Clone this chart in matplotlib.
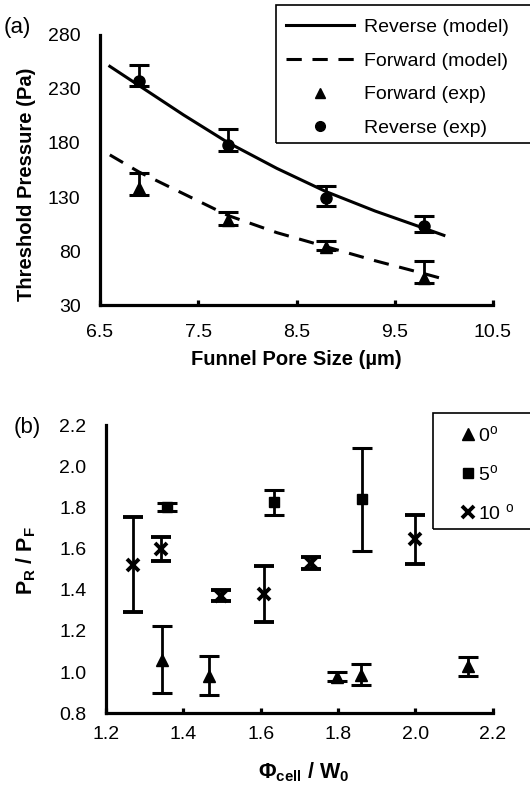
import numpy as np
import matplotlib
matplotlib.use("Agg")
import matplotlib.pyplot as plt
from matplotlib.lines import Line2D
from matplotlib.patches import Rectangle

plt.rcParams['font.family'] = ['Liberation Sans', 'DejaVu Sans']
plt.rcParams['mathtext.fontset'] = 'custom'
plt.rcParams['mathtext.rm'] = 'Liberation Sans'
plt.rcParams['mathtext.bf'] = 'Liberation Sans:bold'
plt.rcParams['mathtext.it'] = 'Liberation Sans:italic'

# (a) threshold pressure vs funnel pore size
pore = [6.9, 7.8, 8.8, 9.8]
fwd_exp = [138, 109, 84, 55]
fwd_lo = [132, 104, 81, 50]
fwd_hi = [152, 116, 89, 71]
rev_exp = [237, 178, 129, 103]
rev_lo = [233, 173, 122, 98]
rev_hi = [252, 193, 140, 112]

model_x = [6.6, 6.9, 7.35, 7.8, 8.3, 8.8, 9.3, 9.8, 10.0]
rev_model = [251, 233, 206, 180.5, 156.5, 135, 117, 101, 94.5]
fwd_model = [169, 153, 133, 113, 97, 84, 71, 59, 54]

# (b) PR/PF vs cell diameter / W0
tri_x = [1.346, 1.467, 1.797, 1.859, 2.137]
tri_y = [1.06, 0.98, 0.975, 0.985, 1.03]
tri_lo = [0.90, 0.89, 0.955, 0.935, 0.98]
tri_hi = [1.225, 1.08, 1.0, 1.04, 1.075]

sq_x = [1.357, 1.634, 1.861]
sq_y = [1.80, 1.825, 1.84]
sq_lo = [1.78, 1.765, 1.59]
sq_hi = [1.82, 1.885, 2.09]

x10_x = [1.271, 1.341, 1.497, 1.609, 1.729, 1.999]
x10_y = [1.52, 1.60, 1.37, 1.38, 1.53, 1.645]
x10_lo = [1.29, 1.54, 1.345, 1.245, 1.50, 1.525]
x10_hi = [1.755, 1.655, 1.40, 1.515, 1.56, 1.765]

W, H = 530, 789
fs = 14
lfs = 14.5


def err(y, lo, hi):
    y = np.array(y); lo = np.array(lo); hi = np.array(hi)
    return [y - lo, hi - y]


def style(ax, xpad):
    for s in ['top', 'right']:
        ax.spines[s].set_visible(False)
    for s in ['left', 'bottom']:
        ax.spines[s].set_linewidth(2.3)
    ax.tick_params(axis='x', direction='in', length=3.5, width=2.3, labelsize=fs, pad=xpad)
    ax.tick_params(axis='y', length=0, labelsize=fs, pad=14)


def box(x0, y0, x1, y1):
    # legend frame running off the right edge, as in the source figure
    fig.patches.append(Rectangle((x0 / W, 1 - y1 / H), (x1 - x0) / W, (y1 - y0) / H,
                                 transform=fig.transFigure, fill=False,
                                 edgecolor='black', lw=1.2))


fig = plt.figure(figsize=(W / 100, H / 100), dpi=100)

# ---- panel (a)
ax1 = fig.add_axes([100 / W, 1 - 305 / H, 393 / W, 270 / H])
ax1.plot(model_x, rev_model, color='black', lw=2.2)
ax1.plot(model_x, fwd_model, color='black', lw=2.2, dashes=(5, 3.5))
ax1.errorbar(pore, fwd_exp, yerr=err(fwd_exp, fwd_lo, fwd_hi), fmt='^', color='black',
             ms=8, capsize=7, capthick=2.2, elinewidth=2)
ax1.errorbar(pore, rev_exp, yerr=err(rev_exp, rev_lo, rev_hi), fmt='o', color='black',
             ms=8, capsize=7, capthick=2.2, elinewidth=2)
ax1.set_xlim(6.5, 10.5)
ax1.set_ylim(30, 280)
ax1.set_xticks(np.arange(6.5, 10.6, 1.0))
ax1.set_yticks(np.arange(30, 281, 50))
ax1.xaxis.set_major_formatter(plt.FormatStrFormatter('%.1f'))
style(ax1, 14)
ax1.set_xlabel('Funnel Pore Size (µm)', fontsize=lfs, fontweight='bold')
ax1.xaxis.set_label_coords(0.5, -(350 - 305) / 270)
ax1.set_ylabel('Threshold Pressure (Pa)', fontsize=lfs, fontweight='bold')
ax1.yaxis.set_label_coords(-(100 - 36) / 393, (305 - 184) / 270)

handles = [Line2D([], [], color='black', lw=2.2),
           Line2D([], [], color='black', lw=2.2, dashes=(5, 3.5)),
           Line2D([], [], color='black', ls='none', marker='^', ms=7),
           Line2D([], [], color='black', ls='none', marker='o', ms=7)]
labels = ['Reverse (model)', 'Forward (model)', 'Forward (exp)', 'Reverse (exp)']
fig.legend(handles, labels, loc='upper left', bbox_to_anchor=(275.7 / W, 1 - 8 / H),
           bbox_transform=fig.transFigure, fontsize=fs, frameon=False,
           borderpad=0.55, handlelength=3.5, handletextpad=0.5, labelspacing=0.82,
           borderaxespad=0)
box(275.7, 5, 545, 142.7)
fig.text(4 / W, 1 - 27 / H, '(a)', fontsize=16, va='center', ha='left')

# ---- panel (b)
ax2 = fig.add_axes([106 / W, 1 - 713.3 / H, 386.7 / W, 288.3 / H])
ekw = dict(color='black', capsize=7, capthick=2.2, elinewidth=2, ls='none')
ax2.errorbar(tri_x, tri_y, yerr=err(tri_y, tri_lo, tri_hi), marker='^', ms=8, **ekw)
ax2.errorbar(sq_x, sq_y, yerr=err(sq_y, sq_lo, sq_hi), marker='s', ms=7, **ekw)
ax2.errorbar(x10_x, x10_y, yerr=err(x10_y, x10_lo, x10_hi), marker='x', ms=8, mew=2.8, **ekw)
ax2.set_xlim(1.2, 2.2)
ax2.set_ylim(0.8, 2.2)
ax2.set_xticks(np.arange(1.2, 2.21, 0.2))
ax2.set_yticks(np.arange(0.8, 2.21, 0.2))
ax2.xaxis.set_major_formatter(plt.FormatStrFormatter('%.1f'))
ax2.yaxis.set_major_formatter(plt.FormatStrFormatter('%.1f'))
style(ax2, 9)
ax2.set_xlabel(r'$\mathbf{\Phi_{cell}\ /\ W_0}$', fontsize=lfs + 1)
ax2.xaxis.set_label_coords((304 - 106) / 386.7, -(760 - 713.3) / 288.3)
ax2.set_ylabel(r'$\mathbf{P_R\ /\ P_F}$', fontsize=lfs + 1)
ax2.yaxis.set_label_coords(-(106 - 38) / 386.7, (713.3 - 560) / 288.3)

handles2 = [Line2D([], [], color='black', ls='none', marker='^', ms=8),
            Line2D([], [], color='black', ls='none', marker='s', ms=7),
            Line2D([], [], color='black', ls='none', marker='x', ms=8, mew=2.8)]
labels2 = [r'0$^\mathrm{o}$', r'5$^\mathrm{o}$', r'10 $^\mathrm{o}$']
fig.legend(handles2, labels2, loc='upper left', bbox_to_anchor=(433 / W, 1 - 413 / H),
           bbox_transform=fig.transFigure, fontsize=fs, frameon=False,
           borderpad=0.6, handlelength=2.4, handletextpad=-0.7, labelspacing=0.98,
           borderaxespad=0)
box(433, 413, 545, 529)
fig.text(14 / W, 1 - 427 / H, '(b)', fontsize=16, va='center', ha='left')

fig.savefig('out.png', dpi=100)
